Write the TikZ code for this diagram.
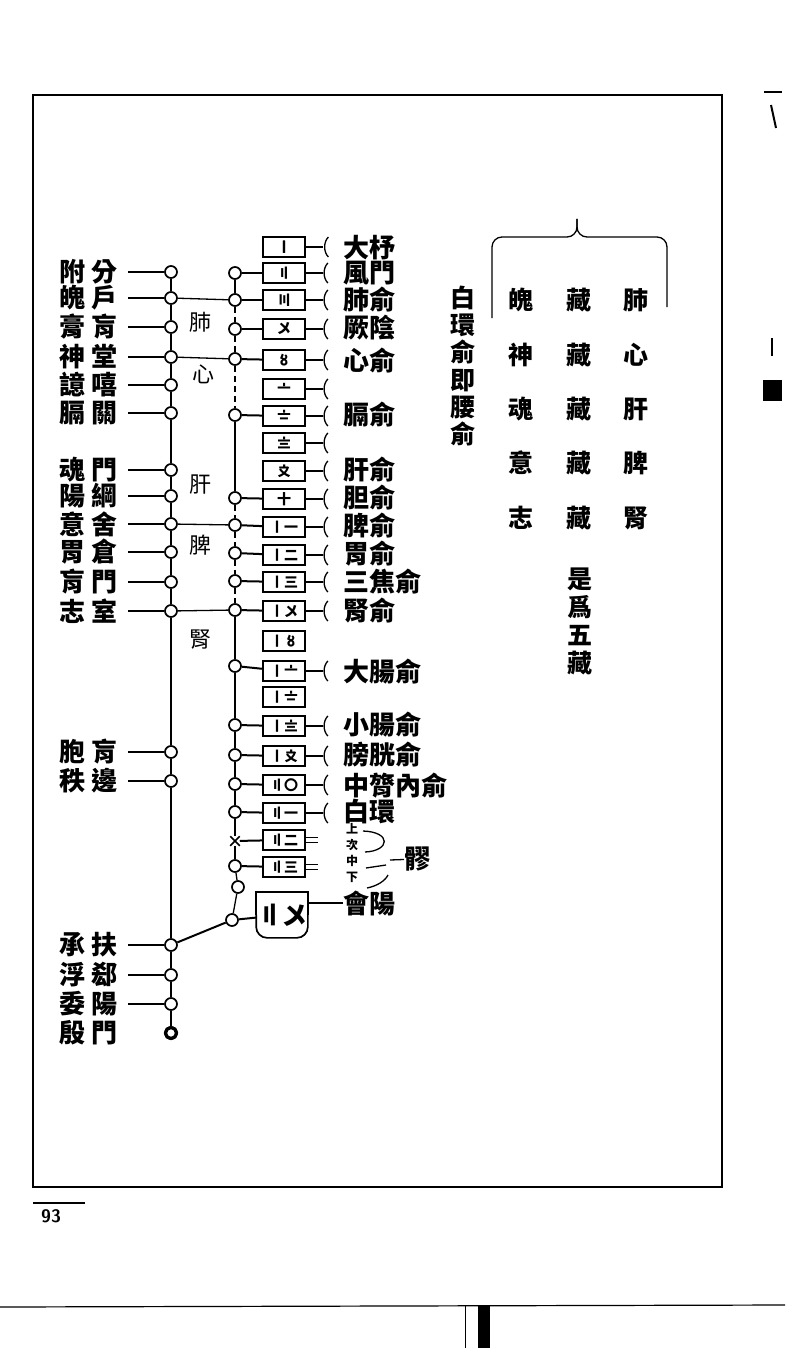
\documentclass[tikz,border=0pt]{standalone}
\usepackage{fontspec}
\newfontfamily\cjk{Noto Sans CJK TC}
\usepackage{tikz}
\usetikzlibrary{calc,shapes.misc}
\tikzset{
    spot/.style={
        circle,
        draw,
        line width=1.7pt,
        fill=white,
        inner sep=0pt,
        minimum size=12pt
    },
    bone/.style={
        draw,
        line width=1.7pt,
        minimum width=42pt,
        minimum height=20pt,
        inner sep=0pt,
        font=\cjk\bfseries\fontsize{14}{14}\selectfont
    },
    namel/.style={
        anchor=east,
        inner sep=0pt,
        font=\cjk\bfseries\fontsize{26}{26}\selectfont
    },
    namer/.style={
        anchor=west,
        inner sep=0pt,
        font=\cjk\bfseries\fontsize{26}{26}\selectfont
    },
    organ/.style={
        inner sep=0pt,
        font=\cjk\fontsize{22}{22}\selectfont
    },
    cell/.style={
        inner sep=0pt,
        font=\cjk\bfseries\fontsize{25}{25}\selectfont
    },
    small/.style={
        inner sep=0pt,
        font=\cjk\bfseries\fontsize{12}{12}\selectfont
    },
    link/.style={line width=2pt},
    weak/.style={line width=1.3pt},
    broken/.style={line width=1.1pt, dash pattern=on 6pt off 4pt}
}

\begin{document}
\begin{tikzpicture}[x=1pt,y=-1pt]
    \useasboundingbox (0,0) rectangle (785,1348);
    \fill[white] (0,0) rectangle (785,1348);

    %% page frame and page number
    \draw[line width=2pt] (33,95) rectangle (722,1187);
    \node (pg) [inner sep=0pt, font=\sffamily\bfseries\fontsize{18}{18}\selectfont] at (51,1216) {93};
    \draw[line width=2pt] (33,1203) -- (85,1203);

    %% binding marks
    \fill (763,380) rectangle (782,401);
    \draw[line width=2pt] (764,92) -- (782,92);
    \draw[line width=2pt] (771,105) -- (776,128);
    \draw[line width=1.5pt] (772,338) -- (772,356);
    \draw[line width=1.2pt] (0,1307) -- (785,1305);
    \draw[line width=1pt] (465,1306) -- (465,1348);
    \fill (478,1305) rectangle (490,1348);

    %% left chain
    \foreach \i/\y/\a/\b in {1/272/附/分, 2/298/魄/戶, 3/327/膏/肓, 4/357/神/堂,
        5/385/譩/嘻, 6/413/膈/關, 7/470/魂/門, 8/496/陽/綱, 9/524/意/舍,
        10/552/胃/倉, 11/582/肓/門, 12/611/志/室, 13/752/胞/肓, 14/781/秩/邊,
        15/945/承/扶, 16/975/浮/郄, 17/1004/委/陽, 18/1033/殷/門}{
        \node (tl\i) [namel] at (118,\y) {\a\hspace{6pt}\b};
        \node (l\i) [spot] at (171,\y) {};
    }
    \node (l18) [spot, line width=3.2pt, minimum size=11pt] at (171,1033) {};
    \foreach \i in {1,...,17}{
        \coordinate (h\i) at ($(tl\i.east)+(10,0)$);
        \draw[link] (h\i) -- (l\i);
    }
    \foreach \a/\b in {1/2,2/3,3/4,4/5,5/6,6/7,7/8,8/9,9/10,10/11,11/12,
        12/13,13/14,14/15,15/16,16/17,17/18}{
        \draw[link] (l\a) -- (l\b);
    }

    %% organs between the chains
    \node (o1) [organ] at (200,322) {肺};
    \node (o2) [organ] at (203,374) {心};
    \node (o3) [organ] at (200,485) {肝};
    \node (o4) [organ] at (200,545) {脾};
    \node (o5) [organ] at (200,640) {腎};

    %% vertebrae
    \foreach \i/\y/\n in {1/247/〡, 2/273/〢, 3/300/〣, 4/329/〤, 5/360/〥,
        6/389/〦, 7/416/〧, 8/443/〨, 9/471/〩, 10/499/十, 11/527/〡一,
        12/555/〡二, 13/582/〡三, 14/611/〡〤, 15/641/〡〥, 16/671/〡〦,
        17/697/〡〧, 18/726/〡〨, 19/756/〡〩, 20/785/〢〇, 21/813/〢一,
        22/840/〢二, 23/867/〢三}{
        \node (b\i) [bone] at (284,\y) {\n};
    }
    \node (b1) [bone, line width=2.8pt] at (284,247) {〡};
    \node (b24) [bone, draw=none, minimum height=44pt,
        font=\cjk\bfseries\fontsize{25}{25}\selectfont] at (282,915) {〢〤};
    \draw[line width=1.7pt] (b24.west) -- (b24.north west) -- (b24.north east) -- (b24.east);
    \draw[line width=1.7pt, rounded corners=11pt] (b24.west) -- (b24.south west)
        -- (b24.south east) -- (b24.east);

    %% right chain
    \foreach \i/\y in {2/273, 3/300, 4/329, 5/359, 7/415, 10/498, 11/525,
        12/553, 13/581, 14/610, 16/666, 18/725, 19/755, 20/784, 21/812, 23/866}{
        \node (r\i) [spot] at (235,\y) {};
        \draw[link] (r\i) -- (b\i);
    }
    \node (r22) [cross out, draw, line width=1.5pt, minimum size=8pt, inner sep=0pt] at (235,841) {};
    \node (r23x) [spot] at (238,887) {};
    \node (r24) [spot] at (232,920) {};
    \draw[link] (r22) -- (b22);
    \draw[link] (r24) -- (b24);
    \foreach \a/\b in {2/3,7/10,14/16,16/18}{
        \draw[link] (r\a) -- (r\b);
    }
    \foreach \a/\b in {3/4,4/5,5/7,10/11,11/12,12/13,13/14}{
        \draw[broken] (r\a) -- (r\b);
    }
    \foreach \a/\b in {18/19,19/20,20/21,21/22,22/23,23/23x,23x/24}{
        \draw[weak] (r\a) -- (r\b);
    }

    %% links across
    \draw[weak] (l2) -- (r3);
    \draw[weak] (l4) -- (r5);
    \draw[weak] (l9) -- (r11);
    \draw[weak] (l12) -- (r14);
    \draw[link] (l15) -- (r24);

    %% brackets and points
    \foreach \i in {1,...,14,16,18,19,20,21}{
        \coordinate (k\i) at ($(b\i.east)+(17,0)$);
        \draw[weak] (b\i) -- (k\i);
        \draw[weak] ($(k\i)+(5,-10)$) .. controls ($(k\i)+(0,-5)$) and ($(k\i)+(0,5)$) .. ($(k\i)+(5,10)$);
    }
    \foreach \i/\y/\t in {1/248/大杼, 2/273/風門, 3/300/肺俞, 4/328/厥陰,
        5/361/心俞, 7/415/膈俞, 9/470/肝俞, 10/498/胆俞, 11/526/脾俞,
        12/554/胃俞, 13/582/三焦俞, 14/611/腎俞, 16/672/大腸俞, 18/725/小腸俞,
        19/755/膀胱俞, 20/786/中膂內俞, 21/812/白環}{
        \node (n\i) [namer] at (343,\y) {\t};
    }

    %% sacral holes
    \coordinate (d22) at (318,840);
    \coordinate (d23) at (318,867);
    \draw[double, double distance=4pt, line width=1.2pt] (b22) -- (d22);
    \draw[double, double distance=4pt, line width=1.2pt] (b23) -- (d23);
    \node (s1) [small] at (352,829) {上};
    \node (s2) [small] at (352,845) {次};
    \node (s3) [small] at (352,861) {中};
    \node (s4) [small] at (352,877) {下};
    \draw[weak] (363,831) .. controls (392,832) and (390,851) .. (365,852);
    \draw[weak] (366,868) -- (386,865);
    \draw[weak] (367,888) .. controls (377,886) and (385,881) .. (388,875);
    \coordinate (jn) at (390,860);
    \node (liao) [namer] at (404,859) {髎};
    \draw[weak] (jn) -- (liao);
    \node (hy) [namer] at (343,903) {會陽};
    \draw[weak] (b24.east |- hy) -- (hy);

    %% note and table
    \node (bh) [cell, align=center, font=\cjk\bfseries\fontsize{25}{27.3}\selectfont] at (463,366) {白\\環\\俞\\即\\腰\\俞};
    \coordinate (bl) at (492,318);
    \coordinate (br) at (667,307);
    \coordinate (bt) at (577,219);
    \draw[weak, rounded corners=10pt] (bl) -- (492,237) -- (577,237) -- (bt);
    \draw[weak, rounded corners=10pt] (br) -- (667,237) -- (577,237) -- (bt);
    \foreach \j/\y/\p/\q in {1/300/魄/肺, 2/355/神/心, 3/409/魂/肝, 4/463/意/脾, 5/518/志/腎}{
        \node (g\j) [cell] at (521,\y) {\p};
        \node (z\j) [cell] at (579,\y) {藏};
        \node (v\j) [cell] at (636,\y) {\q};
    }
    \node (wu) [cell, align=center, font=\cjk\bfseries\fontsize{25}{28}\selectfont] at (580,621) {是\\爲\\五\\藏};

\end{tikzpicture}
\end{document}
